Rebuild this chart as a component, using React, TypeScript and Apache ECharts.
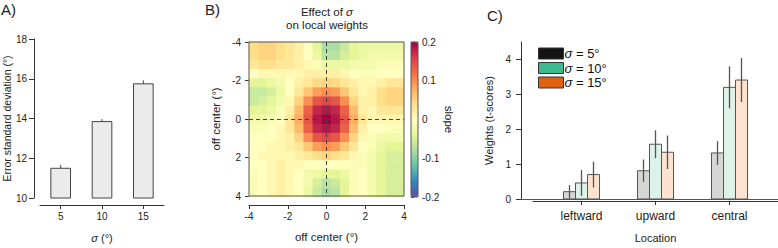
import React, { useEffect, useRef } from 'react';
import * as echarts from 'echarts';

// ---------- Panel A ----------
const sigmaCats = ['5', '10', '15'];
const errSD = [11.52, 13.87, 15.77];
const errSDse = [0.14, 0.1, 0.15];

// ---------- Panel B ----------
const offsetCats = ['-4', '-3.5', '-3', '-2.5', '-2', '-1.5', '-1', '-0.5', '0', '0.5', '1', '1.5', '2', '2.5', '3', '3.5', '4'];
// rows: y offset from -4 (top) to 4 (bottom); columns: x offset from -4 to 4
const slopeRows: number[][] = [
  [0.04, 0.05, 0.05, 0.04, 0.03, 0.02, 0.0, -0.04, -0.08, -0.08, -0.06, -0.04, -0.03, -0.03, -0.03, -0.03, -0.03],
  [0.04, 0.05, 0.05, 0.04, 0.03, 0.02, 0.0, -0.03, -0.07, -0.07, -0.05, -0.04, -0.03, -0.02, -0.02, -0.02, -0.02],
  [0.03, 0.04, 0.04, 0.03, 0.03, 0.02, 0.01, -0.01, -0.03, -0.03, -0.03, -0.02, -0.02, -0.02, -0.01, -0.01, -0.01],
  [0.0, 0.01, 0.01, 0.01, 0.01, 0.01, 0.02, 0.02, 0.02, 0.02, 0.01, 0.0, -0.01, -0.01, 0.0, 0.0, 0.0],
  [-0.04, -0.04, -0.03, -0.02, 0.0, 0.02, 0.03, 0.045, 0.05, 0.045, 0.03, 0.02, 0.01, 0.01, 0.02, 0.03, 0.03],
  [-0.06, -0.06, -0.05, -0.03, 0.0, 0.03, 0.06, 0.09, 0.1, 0.09, 0.06, 0.03, 0.01, 0.02, 0.04, 0.05, 0.05],
  [-0.06, -0.05, -0.04, -0.02, 0.01, 0.05, 0.1, 0.14, 0.15, 0.14, 0.1, 0.05, 0.02, 0.02, 0.04, 0.05, 0.05],
  [-0.04, -0.04, -0.03, -0.01, 0.02, 0.07, 0.13, 0.175, 0.185, 0.175, 0.13, 0.07, 0.02, 0.01, 0.03, 0.03, 0.03],
  [-0.02, -0.02, -0.01, 0.0, 0.03, 0.08, 0.14, 0.185, 0.2, 0.185, 0.14, 0.08, 0.03, 0.01, 0.01, 0.01, 0.01],
  [-0.01, -0.01, 0.0, 0.01, 0.03, 0.07, 0.13, 0.175, 0.185, 0.175, 0.13, 0.07, 0.02, 0.0, 0.0, -0.01, -0.01],
  [0.0, 0.0, 0.0, 0.01, 0.02, 0.05, 0.1, 0.14, 0.15, 0.14, 0.1, 0.05, 0.01, -0.01, -0.02, -0.02, -0.02],
  [0.0, 0.0, 0.01, 0.01, 0.02, 0.03, 0.06, 0.09, 0.1, 0.09, 0.06, 0.03, 0.0, -0.01, -0.03, -0.04, -0.04],
  [0.0, 0.01, 0.01, 0.01, 0.01, 0.02, 0.03, 0.04, 0.05, 0.04, 0.03, 0.01, -0.01, -0.02, -0.04, -0.05, -0.05],
  [0.0, 0.0, 0.01, 0.02, 0.01, 0.01, 0.0, 0.0, 0.0, 0.0, 0.0, -0.01, -0.01, -0.02, -0.04, -0.05, -0.05],
  [-0.01, 0.0, 0.01, 0.02, 0.01, 0.0, -0.02, -0.03, -0.04, -0.04, -0.03, -0.01, 0.0, -0.02, -0.04, -0.05, -0.05],
  [-0.01, 0.0, 0.01, 0.02, 0.01, 0.0, -0.02, -0.05, -0.07, -0.06, -0.04, -0.01, 0.0, -0.02, -0.04, -0.05, -0.05],
  [-0.01, 0.0, 0.01, 0.02, 0.01, 0.0, -0.03, -0.06, -0.08, -0.07, -0.04, -0.01, 0.0, -0.02, -0.04, -0.05, -0.05],
];
const slopeTicks = [-0.2, -0.1, 0, 0.1, 0.2];

// ---------- Panel C ----------
const locations = ['leftward', 'upward', 'central'];
const sigmaNames = ['σ = 5°', 'σ = 10°', 'σ = 15°'];
const weights5 = [0.21, 0.81, 1.32];
const weights5err = [0.19, 0.32, 0.34];
const weights10 = [0.46, 1.57, 3.2];
const weights10err = [0.37, 0.4, 0.6];
const weights15 = [0.7, 1.34, 3.41];
const weights15err = [0.37, 0.48, 0.63];
const weightTicks = [0, 1, 2, 3, 4];

const F = 'Liberation Sans, Arial, Helvetica, sans-serif';
const AX = '#333';
const TXT = '#222';
const spectral = ['#5e4fa2', '#3288bd', '#66c2a5', '#abdda4', '#e6f598', '#ffffbf', '#fee08b', '#fdae61', '#f46d43', '#d53e4f', '#9e0142'];
const legendColors = ['#141414', '#3dba8c', '#e0620f'];
const paleColors = ['#d6d6d6', '#ddf3e9', '#fde2cf'];

function buildOption(): any {
  const heatData: number[][] = [];
  slopeRows.forEach((row, j) => row.forEach((v, i) => heatData.push([i, j, v])));

  const seriesVals = [weights5, weights10, weights15];
  const seriesErrs = [weights5err, weights10err, weights15err];
  const BW = 12 / 74;

  const axisLine = { show: true, onZero: false, lineStyle: { color: AX, width: 1 } };
  const axisTick = { show: true, length: 4, lineStyle: { color: AX, width: 1 } };
  const lbl = { color: TXT, fontSize: 10, fontFamily: F };

  const cSeries = [0, 1, 2].map((k) => ({
    type: 'custom',
    name: sigmaNames[k],
    xAxisIndex: 4,
    yAxisIndex: 4,
    itemStyle: { color: legendColors[k] },
    clip: false,
    data: locations.map((_, i) => [i, seriesVals[k][i], seriesErrs[k][i]]),
    renderItem: (params: any, api: any) => {
      const x = api.value(0) + (k - 1) * BW;
      const v = api.value(1);
      const e = api.value(2);
      const tl = api.coord([x - BW / 2, v]);
      const br = api.coord([x + BW / 2, 0]);
      const e1 = api.coord([x, v - e]);
      const e2 = api.coord([x, v + e]);
      return {
        type: 'group',
        children: [
          {
            type: 'rect',
            shape: { x: tl[0], y: tl[1], width: br[0] - tl[0], height: br[1] - tl[1] },
            style: { fill: paleColors[k], stroke: '#555', lineWidth: 1 },
          },
          {
            type: 'line',
            shape: { x1: e1[0], y1: e1[1], x2: e2[0], y2: e2[1] },
            style: { stroke: '#555', lineWidth: 1.3 },
          },
        ],
      };
    },
  }));

  return {
    animation: false,
    textStyle: { fontFamily: F },
    grid: [
      { left: 39, top: 39, width: 125, height: 159 },
      { left: 249, top: 42, width: 155, height: 155 },
      { left: 249, top: 42, width: 155, height: 155, show: true, z: 5, borderColor: '#555', borderWidth: 1, backgroundColor: 'transparent' },
      { left: 411, top: 42, width: 7, height: 155, show: true, z: 5, borderColor: '#555', borderWidth: 1, backgroundColor: 'transparent' },
      { left: 521, top: 42, width: 257, height: 157 },
      { left: 533, top: 42, width: 245, height: 165 },
    ],
    xAxis: [
      {
        gridIndex: 0, type: 'category', data: sigmaCats, offset: 7,
        axisLine, axisTick: { ...axisTick, alignWithLabel: true }, axisLabel: { ...lbl, margin: 6 },
        name: '{i|σ} (°)', nameLocation: 'middle', nameGap: 27,
        nameTextStyle: { color: TXT, fontSize: 11, fontFamily: F, rich: { i: { fontStyle: 'italic', fontSize: 11, fontFamily: F, color: TXT } } },
      },
      { gridIndex: 1, type: 'category', data: offsetCats, show: false },
      {
        gridIndex: 2, type: 'value', min: -4, max: 4, interval: 2, offset: 9,
        axisLine, axisTick, axisLabel: { ...lbl, margin: 6 }, splitLine: { show: false },
        name: 'off center (°)', nameLocation: 'middle', nameGap: 26,
        nameTextStyle: { color: TXT, fontSize: 11.5, fontFamily: F },
      },
      { gridIndex: 3, type: 'value', show: false, min: 0, max: 1 },
      {
        gridIndex: 4, type: 'value', min: -(581.5 - 521) / 74, max: (778 - 581.5) / 74,
        axisLine: { show: true, onZero: false, lineStyle: { color: '#555', width: 1 } },
        axisTick: { show: false }, axisLabel: { show: false }, splitLine: { show: false },
      },
      {
        gridIndex: 5, type: 'value', min: -(581.5 - 533) / 74, max: (778 - 581.5) / 74,
        axisLine, axisTick: { ...axisTick, customValues: [0, 1, 2] },
        axisLabel: { ...lbl, fontSize: 12, margin: 9, customValues: [0, 1, 2], formatter: (v: number) => locations[Math.round(v)] ?? '' },
        splitLine: { show: false },
        name: 'Location', nameLocation: 'middle', nameGap: 31,
        nameTextStyle: { color: TXT, fontSize: 11, fontFamily: F },
      },
    ],
    yAxis: [
      {
        gridIndex: 0, type: 'value', min: 10, max: 18, interval: 2, offset: 6,
        axisLine, axisTick: { ...axisTick, length: 5 }, axisLabel: { ...lbl, margin: 7 }, splitLine: { show: false },
        name: 'Error standard deviation (°)', nameLocation: 'middle', nameGap: 16,
        nameTextStyle: { color: TXT, fontSize: 10.5, fontFamily: F },
      },
      { gridIndex: 1, type: 'category', data: offsetCats, inverse: true, show: false },
      {
        gridIndex: 2, type: 'value', min: -4, max: 4, interval: 2, inverse: true,
        axisLine, axisTick, axisLabel: { ...lbl, margin: 8 }, splitLine: { show: false },
        name: 'off center (°)', nameLocation: 'middle', nameGap: 27,
        nameTextStyle: { color: TXT, fontSize: 11.5, fontFamily: F },
      },
      {
        gridIndex: 3, type: 'value', min: slopeTicks[0], max: slopeTicks[slopeTicks.length - 1], interval: 0.1,
        position: 'right',
        axisLine: { show: false }, axisTick: { show: true, length: 3, lineStyle: { color: AX } },
        minorTick: { show: true, splitNumber: 2, length: 2, lineStyle: { color: AX } },
        axisLabel: { ...lbl, margin: 4, formatter: (v: number) => (Math.abs(v) < 1e-9 ? '0' : String(+v.toFixed(1))) },
        splitLine: { show: false },
        name: 'slope', nameLocation: 'middle', nameRotate: -90, nameGap: 13,
        nameTextStyle: { color: TXT, fontSize: 11.5, fontFamily: F },
      },
      {
        gridIndex: 4, type: 'value', min: 0, max: 4.5,
        axisLine, axisTick: { ...axisTick, length: 5, customValues: weightTicks },
        axisLabel: { ...lbl, margin: 10, customValues: weightTicks }, splitLine: { show: false },
        name: 'Weights (t-scores)', nameLocation: 'middle', nameGap: 27,
        nameTextStyle: { color: TXT, fontSize: 11, fontFamily: F },
      },
      { gridIndex: 5, type: 'value', show: false, min: 0, max: 1 },
    ],
    visualMap: {
      type: 'continuous', min: -0.2, max: 0.2, seriesIndex: 2, calculable: false,
      left: 411, top: 42, itemWidth: 7, itemHeight: 155, padding: 0, orient: 'vertical',
      inRange: { color: spectral }, textStyle: { color: 'transparent' },
    },
    legend: {
      data: sigmaNames, orient: 'vertical', left: 538, top: 47, padding: 0, icon: 'rect',
      itemWidth: 25, itemHeight: 11, itemGap: 1.5, selectedMode: false,
      itemStyle: { borderColor: '#333', borderWidth: 1 },
      formatter: (n: string) => n.replace('σ', '{i|σ}'),
      textStyle: {
        fontSize: 13, color: '#111', fontFamily: F, lineHeight: 12, padding: [0, 0, 0, -4],
        rich: { i: { fontStyle: 'italic', fontSize: 13, color: '#111', fontFamily: F } },
      },
    },
    series: [
      {
        type: 'bar', xAxisIndex: 0, yAxisIndex: 0, data: errSD, barWidth: '50%',
        itemStyle: { color: '#ebebeb', borderColor: '#444', borderWidth: 1 },
      },
      {
        type: 'custom', xAxisIndex: 0, yAxisIndex: 0,
        data: sigmaCats.map((_, i) => [i, errSD[i], errSDse[i]]),
        renderItem: (params: any, api: any) => {
          const x = api.value(0), v = api.value(1), e = api.value(2);
          const p1 = api.coord([x, v - e]);
          const p2 = api.coord([x, v + e]);
          return { type: 'line', shape: { x1: p1[0], y1: p1[1], x2: p2[0], y2: p2[1] }, style: { stroke: '#444', lineWidth: 1 } };
        },
      },
      {
        type: 'heatmap', xAxisIndex: 1, yAxisIndex: 1, data: heatData,
        itemStyle: { borderWidth: 0 }, emphasis: { disabled: true },
      },
      {
        type: 'line', xAxisIndex: 2, yAxisIndex: 2, data: [], z: 6,
        markLine: {
          silent: true, symbol: 'none', label: { show: false },
          lineStyle: { type: [4, 3], color: '#444', width: 1 },
          data: [{ xAxis: 0 }, { yAxis: 0 }],
        },
      },
      ...cSeries,
    ],
    graphic: [
      { type: 'text', left: 1, top: 2, style: { text: 'A)', fontSize: 15, fontFamily: F, fill: TXT } },
      { type: 'text', left: 205, top: 2, style: { text: 'B)', fontSize: 15, fontFamily: F, fill: TXT } },
      { type: 'text', left: 487, top: 8, style: { text: 'C)', fontSize: 15, fontFamily: F, fill: TXT } },
      {
        type: 'text', x: 327, y: 5,
        style: {
          text: 'Effect of {i|σ}\non local weights', align: 'center', fontSize: 11.5, lineHeight: 13.5, fontFamily: F, fill: TXT,
          rich: { i: { fontStyle: 'italic', fontSize: 11.5, fontFamily: F, fill: TXT } },
        },
      },
    ],
  };
}

export default function App() {
  const ref = useRef<HTMLDivElement>(null);
  useEffect(() => {
    document.body.style.margin = '0';
    const chart = echarts.init(ref.current!, null, { renderer: 'svg' });
    chart.setOption(buildOption());
    return () => chart.dispose();
  }, []);
  return <div ref={ref} style={{ width: 778, height: 248 }} />;
}
